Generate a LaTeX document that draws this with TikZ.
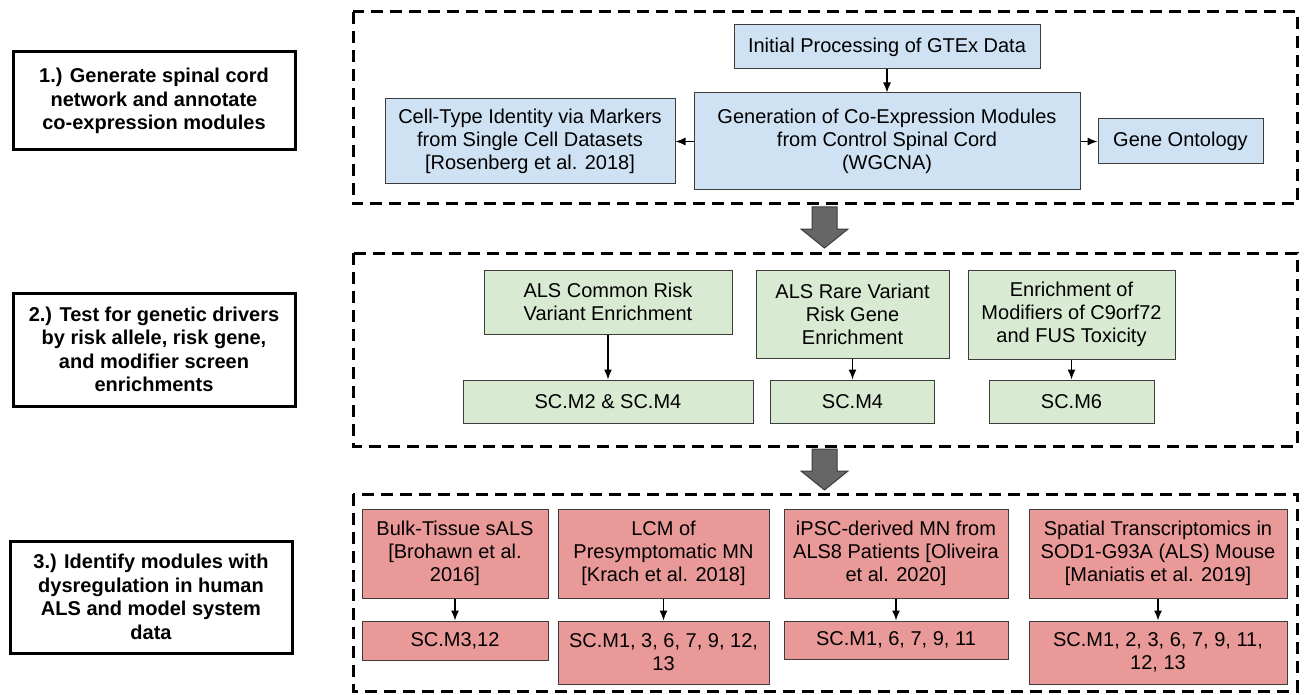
\documentclass[tikz,border=0pt]{standalone}
\usepackage{fontspec}
\setmainfont{Liberation Sans}
\usetikzlibrary{arrows.meta}

\definecolor{netblue}{HTML}{CFE2F3}
\definecolor{drivergreen}{HTML}{D9EAD3}
\definecolor{dysred}{HTML}{EA9999}
\definecolor{boxline}{HTML}{3C3C3C}
\definecolor{blockgray}{HTML}{666666}

\begin{document}
\begin{tikzpicture}[
			x=1pt, y=-1pt,
			>={Latex[length=10pt,width=8pt]},
			box/.style={
					rectangle,
					draw=boxline,
					line width=1pt,
					inner sep=0pt,
					align=center,
					font=\fontsize{20}{23}\selectfont
				},
			network/.style={box, fill=netblue},
			driver/.style={box, fill=drivergreen},
			dysreg/.style={box, fill=dysred},
			stage/.style={
					rectangle,
					draw=black,
					line width=3pt,
					inner sep=0pt,
					align=center,
					minimum width=282pt,
					font=\fontsize{20}{23.5}\selectfont\bfseries
				},
			frame/.style={draw=black, line width=3pt, dash pattern=on 12pt off 7pt},
			blockarrow/.style={fill=blockgray, draw=boxline, line width=1pt}
		]
		\useasboundingbox (0,0) rectangle (1306,695);

		% Stage labels
		\node[stage, minimum height=98pt] (stageone) at (154,101) {1.) Generate spinal cord \\ network and annotate \\ co-expression modules};
		\node[stage, minimum height=113pt] (stagetwo) at (154,349.5) {2.) Test for genetic drivers \\ by risk allele, risk gene, \\ and modifier screen \\ enrichments};
		\node[stage, minimum height=112pt] (stagethree) at (151,597) {3.) Identify modules with \\ dysregulation in human \\ ALS and model system \\ data};

		% Frames
		\draw[frame] (353,12) rectangle (1297,204);
		\draw[frame] (353,253) rectangle (1297,446);
		\draw[frame] (353,494) rectangle (1297,691);

		% Block arrows
		\draw[blockarrow] (812,207) -- (837,207) -- (837,229) -- (848,229) -- (824.5,248) -- (801,229) -- (812,229) -- cycle;
		\draw[blockarrow] (812,449) -- (837,449) -- (837,471) -- (848,471) -- (824.5,490) -- (801,471) -- (812,471) -- cycle;

		% Nodes, network
		\node[network, minimum width=306pt, minimum height=44pt] (gtex) at (887,47) {Initial Processing of GTEx Data};
		\node[network, minimum width=386pt, minimum height=97pt] (wgcna) at (887,141.5) {Generation of Co-Expression Modules \\ from Control Spinal Cord \\ (WGCNA)};
		\node[network, minimum width=290pt, minimum height=85pt] (celltype) at (530,141.5) {Cell-Type Identity via Markers \\ from Single Cell Datasets \\ {[Rosenberg et al. 2018]}};
		\node[network, minimum width=165pt, minimum height=45pt] (ontology) at (1180.5,141.5) {Gene Ontology};

		% Nodes, genetic drivers
		\node[driver, minimum width=248pt, minimum height=64pt] (common) at (608,302) {ALS Common Risk \\ Variant Enrichment};
		\node[driver, minimum width=290pt, minimum height=43pt] (commonres) at (608,401.5) {SC.M2 \& SC.M4};
		\node[driver, minimum width=193pt, minimum height=88pt] (rare) at (852.5,314) {ALS Rare Variant \\ Risk Gene \\ Enrichment};
		\node[driver, minimum width=164pt, minimum height=43pt] (rareres) at (852.5,401.5) {SC.M4};
		\node[driver, minimum width=207pt, minimum height=89pt] (modifier) at (1071.5,314.5) {Enrichment of \\ Modifiers of C9orf72 \\ and FUS Toxicity};
		\node[driver, minimum width=165pt, minimum height=43pt] (modifierres) at (1071.5,401.5) {SC.M6};

		% Nodes, dysregulation
		\node[dysreg, minimum width=186pt, minimum height=89pt] (bulk) at (455,553.5) {Bulk-Tissue sALS \\ {[Brohawn et al.} \\ 2016]};
		\node[dysreg, minimum width=186pt, minimum height=39pt] (bulkres) at (455,640.5) {SC.M3,12};
		\node[dysreg, minimum width=211pt, minimum height=89pt] (lcm) at (663.5,553.5) {LCM of \\ Presymptomatic MN \\ {[Krach et al. 2018]}};
		\node[dysreg, minimum width=211pt, minimum height=63pt] (lcmres) at (663.5,652.5) {SC.M1, 3, 6, 7, 9, 12, \\ 13};
		\node[dysreg, minimum width=224pt, minimum height=89pt] (ipsc) at (896,553.5) {iPSC-derived MN from \\ ALS8 Patients [Oliveira \\ et al. 2020]};
		\node[dysreg, minimum width=224pt, minimum height=38pt] (ipscres) at (896,640) {SC.M1, 6, 7, 9, 11};
		\node[dysreg, minimum width=258pt, minimum height=89pt] (spatial) at (1158,553.5) {Spatial Transcriptomics in \\ SOD1-G93A (ALS) Mouse \\ {[Maniatis et al. 2019]}};
		\node[dysreg, minimum width=258pt, minimum height=63pt] (spatialres) at (1158,652.5) {SC.M1, 2, 3, 6, 7, 9, 11, \\ 12, 13};

		% Arrows
		\draw[->, line width=1.3pt] (gtex) -- (wgcna);
		\draw[->, line width=1.3pt] (wgcna) -- (celltype);
		\draw[->, line width=1.3pt] (wgcna) -- (ontology);
		\draw[->, line width=1.3pt] (common) -- (commonres);
		\draw[->, line width=1.3pt] (rare) -- (rareres);
		\draw[->, line width=1.3pt] (modifier) -- (modifierres);
		\draw[->, line width=1.3pt] (bulk) -- (bulkres);
		\draw[->, line width=1.3pt] (lcm) -- (lcmres);
		\draw[->, line width=1.3pt] (ipsc) -- (ipscres);
		\draw[->, line width=1.3pt] (spatial) -- (spatialres);

	\end{tikzpicture}
\end{document}
